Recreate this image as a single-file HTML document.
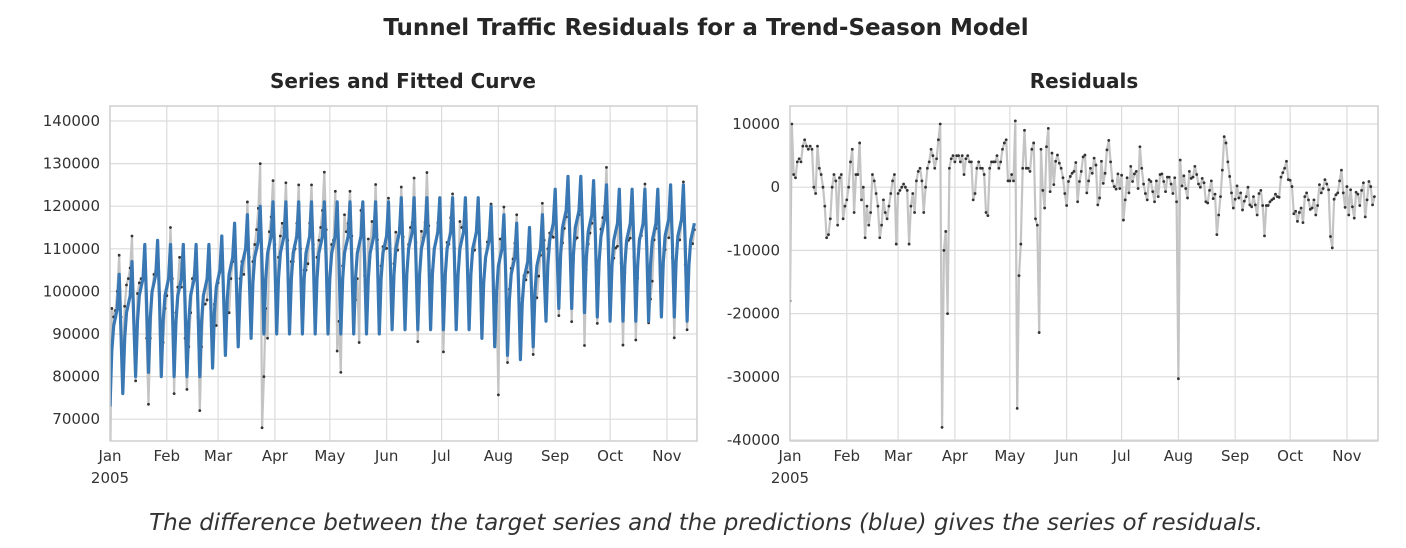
<!DOCTYPE html>
<html><head><meta charset="utf-8"><style>
body{margin:0;background:#fff;width:1406px;height:548px;overflow:hidden;font-family:"Liberation Sans","DejaVu Sans",sans-serif;}
svg{position:absolute;left:0;top:0}
</style></head><body>
<svg id="chart" width="1406" height="548">
<text x="706" y="35" text-anchor="middle" font-family="DejaVu Sans, sans-serif" font-weight="bold" font-size="23" fill="#262626">Tunnel Traffic Residuals for a Trend-Season Model</text>
<text x="403" y="88" text-anchor="middle" font-family="DejaVu Sans, sans-serif" font-weight="bold" font-size="20" fill="#262626">Series and Fitted Curve</text>
<text x="1084" y="88" text-anchor="middle" font-family="DejaVu Sans, sans-serif" font-weight="bold" font-size="20" fill="#262626">Residuals</text>
<text x="706" y="530" text-anchor="middle" font-style="italic" font-size="23" fill="#333" font-family="DejaVu Sans, sans-serif">The difference between the target series and the predictions (blue) gives the series of residuals.</text>
</svg>
<script>
// weekly trend means (thousands), 46 weeks starting Jan 1 2005
const weekMeans=[92,95,99,100,99,99,99,99,101,104,106,108,109,109,109,109,109,109,109,109,109,109,110,110,110,110,110,110,110,108,106,104,103,106,112,115,115,114,113,112,112,112,112,113,113,112];
// day-of-week seasonal offsets (thousands)
const dowOffsets=[-19,-6,0,2,4,12,-2];
// residuals (thousands), one per day
const residuals=[
-18,10,2,1.5,4,4.5,4,6.5,7.5,6.5,6,6.5,6,0,-1,6.5,3,2,0,-3,-8,-7.5,-5,0,2,1,-6,1.5,2,-5,-3,
-2,0,4,6,-4,2,2,7,-2,0,-8,-3,-6,-4,2,1,-1,-3,-8,-6,-2,-4,-5,-3,-1,1,2,-9,
-1,-0.5,0,0.5,0,-0.5,-9,-3,-1,-4,1,2.5,3,1,-4,0,3,4,6,5,3,4.5,7.5,10,-38,-10,-7,-20,3,4.5,5,
4,5,5,4,5,2,4.5,5,4,4,-2,-1,3,4,3,3,2,-4,-4.5,3,4,4,4,5,3,4,6,7,7.5,1,
1,2,1,10.5,-35,-14,-9,3,9,3,3,2.5,6,7,-5,-6,-23,
6.0,-0.5,-3.3,6.4,9.3,-0.7,5.4,0.4,4.1,5.1,3.8,3.0,1.5,-1.0,-2.9,0.9,1.7,2.2,2.5,3.9,-2.3,0.9,2.5,4.8,5.1,-0.9,1.0,3.0,2.2,4.6,3.5,-2.8,-1.7,4.1,0.6,2.2,5.9,7.4,4.0,1.0,0.1,-0.3,2.1,-0.2,1.9,-5.2,-2.0,1.5,-0.9,3.3,0.9,2.1,2.5,-0.2,6.4,3.0,0.5,-1.0,-2.0,1.2,0.9,-0.7,-2.3,1.0,-1.5,2.0,2.1,0.9,-0.7,1.6,1.6,0.5,-1.0,1.5,-2.3,
-30.3,
4.3,0.2,1.8,-0.2,-1.7,2.5,1.4,1.6,3.3,2.0,0.5,0,1.4,0.7,-2.3,-2.5,-0.5,1.0,-1.8,-1.1,-7.5,-4.4,-1.5,2.7,8.0,7.0,4.0,1.7,-0.9,-3.3,-1.9,0.2,-1.7,-0.9,-3.6,-2.2,-1.5,0,-2.8,-3.1,-1.5,-2.8,-4.4,-1.0,-0.5,-2.9,-7.7,-2.9,-2.9,-2.3,-2.0,-1.8,-1.1,-1.5,-1.6,1.6,2.3,3.0,4.1,1.2,1.1,0.1,-4.2,-3.8,-5.4,-4.0,-3.3,-5.6,-1.5,-0.9,-2.0,-3.5,-3.3,-2.0,-4.4,-2.9,0.4,-0.9,-0.2,1.2,0.5,-0.4,-7.8,-9.6,-1.9,-1.2,-0.9,1.0,2.7,-0.9,-3.2,0.1,-4.4,-0.4,-3.1,-4.9,-0.8,-1.1,-2.9,-0.5,0.7,-4.7,-2.0,0.9,0.1,-2.8,-1.5];
const monthLabels=["Jan","Feb","Mar","Apr","May","Jun","Jul","Aug","Sep","Oct","Nov"];
const monthStartDays=[0,31,59,90,120,151,181,212,243,273,304];
const leftTicks=[70000,80000,90000,100000,110000,120000,130000,140000];
const rightTicks=[-40000,-30000,-20000,-10000,0,10000];

const NS="http://www.w3.org/2000/svg";
const svg=document.getElementById('chart');
function mk(tag,attrs,parent){const e=document.createElementNS(NS,tag);for(const k in attrs)e.setAttribute(k,attrs[k]);(parent||svg).appendChild(e);return e;}
const nDays=residuals.length;
const fitted=[];for(let d=0;d<nDays;d++){fitted.push((weekMeans[Math.floor(d/7)]+dowOffsets[d%7])*1000);}
const series=fitted.map((f,i)=>f+residuals[i]*1000);

function panel(name,x0,x1,y0,y1,yv,ypx,yTicks){
  const g=mk('g',{});
  
  
  const dayW=1.832;
  const X=d=>x0+d*dayW;
  const Y=v=>ypx+(yv-v)/10000*(name==='left-panel'?42.6:63.2);
  mk('rect',{x:x0,y:y0,width:x1-x0,height:y1-y0,fill:'#fff'},g);
  yTicks.forEach(t=>{
    const y=Y(t);
    const l=mk('line',{x1:x0,x2:x1,y1:y,y2:y,stroke:'#dcdcdc','stroke-width':1.2},g);
    
    
    const tx=mk('text',{x:x0-10,y:y+5,'text-anchor':'end','font-size':15,fill:'#333','font-family':'DejaVu Sans, sans-serif'},g);
    tx.textContent=t;
    
    
  });
  monthStartDays.forEach((d,i)=>{
    const x=X(d);
    const l=mk('line',{x1:x,x2:x,y1:y0,y2:y1,stroke:'#dcdcdc','stroke-width':1.2},g);
    
    
    const tx=mk('text',{x:x,y:y1+20,'text-anchor':'middle','font-size':15,fill:'#333','font-family':'DejaVu Sans, sans-serif'},g);
    tx.textContent=monthLabels[i];
    
    
  });
  const yr=mk('text',{x:X(0),y:y1+42,'text-anchor':'middle','font-size':15,fill:'#333','font-family':'DejaVu Sans, sans-serif'},g);
  yr.textContent='2005';
  
  
  return {g,X,Y};
}
function addSeries(p,vals,color,width,dots,name){
  const clip=p.clipId;
  const pts=vals.map((v,i)=>p.X(i).toFixed(1)+','+p.Y(v).toFixed(1)).join(' ');
  const pl=mk('polyline',{points:pts,fill:'none',stroke:color,'stroke-width':width,'stroke-linejoin':'round','clip-path':'url(#'+clip+')'},p.g);
  
  
  if(dots){vals.forEach((v,i)=>{
    const c=mk('circle',{cx:p.X(i),cy:p.Y(v),r:1.4,fill:'#333','clip-path':'url(#'+clip+')'},p.g);
    
    
  });}
}
const defs=mk('defs',{});
function clipRect(id,x,y,w,h){const cp=mk('clipPath',{id:id},defs);mk('rect',{x:x,y:y,width:w,height:h},cp);}
clipRect('cl',110,106,587,335);clipRect('cr',790,106,588,335);

const L=panel('left-panel',110,697,106,441,140000,121,leftTicks);L.clipId='cl';
addSeries(L,series,'#c4c4c4',2.2,true,'target-series');
addSeries(L,fitted,'#3a78b4',3.2,false,'fitted-curve');
const R=panel('right-panel',790,1378,106,441,10000,124,rightTicks);R.clipId='cr';
addSeries(R,residuals.map(v=>v*1000),'#c4c4c4',2.2,true,'residual-series');
[[110,697],[790,1378]].forEach(([a,b])=>{
  const f=mk('rect',{x:a,y:106,width:b-a,height:335,fill:'none',stroke:'#cfcfcf','stroke-width':1.5});
  
  
});
</script>
</body></html>
